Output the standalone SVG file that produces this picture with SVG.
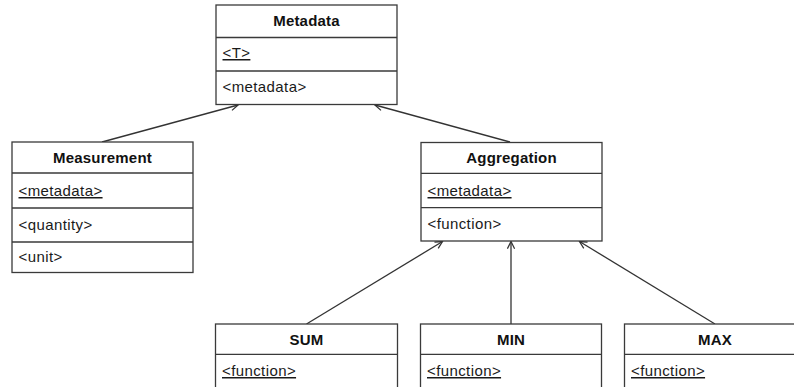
<svg xmlns="http://www.w3.org/2000/svg" width="794" height="387" viewBox="0 0 794 387">
<style>
.box{fill:#fff;stroke:#3a3a3a;stroke-width:1.3}
.div{stroke:#3a3a3a;stroke-width:1.3}
.h{font-family:"Liberation Sans",Arial,sans-serif;font-size:15px;font-weight:bold;letter-spacing:0.2px;fill:#111;text-anchor:middle}
.t{font-family:"Liberation Sans",Arial,sans-serif;font-size:15px;letter-spacing:0.4px;fill:#1a1a1a}
.u{text-decoration:underline}
.c{stroke:#333;stroke-width:1.3;fill:none;marker-end:url(#open)}
</style>
<defs>
<marker id="open" viewBox="0 0 10 10" refX="9" refY="5" markerWidth="9" markerHeight="9" markerUnits="userSpaceOnUse" orient="auto">
<path d="M1,1 L9,5 L1,9" fill="none" stroke="#333" stroke-width="1.4"/>
</marker>
</defs>
<rect width="794" height="387" fill="#fff"/>
<g id="connectors">
<line class="c" x1="102" y1="142" x2="238" y2="105"/>
<line class="c" x1="510" y1="142" x2="375" y2="105"/>
<line class="c" x1="306.5" y1="324" x2="442.5" y2="241.5"/>
<line class="c" x1="511" y1="324" x2="511" y2="241.5"/>
<line class="c" x1="715" y1="324" x2="579.5" y2="241.5"/>
</g>
<g id="metadata">
<rect class="box" x="216" y="5" width="181" height="99.5"/>
<line class="div" x1="216" y1="37.5" x2="397" y2="37.5"/>
<line class="div" x1="216" y1="71" x2="397" y2="71"/>
<text class="h" x="306.5" y="26">Metadata</text>
<text class="t u" x="222.5" y="58">&lt;T&gt;</text>
<text class="t" x="222.5" y="92">&lt;metadata&gt;</text>
</g>
<g id="measurement">
<rect class="box" x="12" y="142" width="181" height="130.5"/>
<line class="div" x1="12" y1="173" x2="193" y2="173"/>
<line class="div" x1="12" y1="208" x2="193" y2="208"/>
<line class="div" x1="12" y1="242" x2="193" y2="242" stroke-width="2"/>
<text class="h" x="102.5" y="163">Measurement</text>
<text class="t u" x="18.5" y="196">&lt;metadata&gt;</text>
<text class="t" x="18.5" y="230">&lt;quantity&gt;</text>
<text class="t" x="18.5" y="262">&lt;unit&gt;</text>
</g>
<g id="aggregation">
<rect class="box" x="421" y="142.5" width="181" height="98.5"/>
<line class="div" x1="421" y1="173.3" x2="602" y2="173.3"/>
<line class="div" x1="421" y1="207.7" x2="602" y2="207.7"/>
<text class="h" x="511.5" y="163">Aggregation</text>
<text class="t u" x="427.5" y="196">&lt;metadata&gt;</text>
<text class="t" x="427.5" y="229">&lt;function&gt;</text>
</g>
<g id="sum">
<rect class="box" x="215.5" y="324" width="182" height="80"/>
<line class="div" x1="215.5" y1="354.3" x2="397.5" y2="354.3"/>
<text class="h" x="306.5" y="345">SUM</text>
<text class="t u" x="222" y="376">&lt;function&gt;</text>
</g>
<g id="min">
<rect class="box" x="420.5" y="324" width="181" height="80"/>
<line class="div" x1="420.5" y1="354.3" x2="601.5" y2="354.3"/>
<text class="h" x="511" y="345">MIN</text>
<text class="t u" x="427" y="376">&lt;function&gt;</text>
</g>
<g id="max">
<rect class="box" x="624.5" y="324" width="182" height="80"/>
<line class="div" x1="624.5" y1="354.3" x2="806.5" y2="354.3"/>
<text class="h" x="715" y="345">MAX</text>
<text class="t u" x="631" y="376">&lt;function&gt;</text>
</g>
</svg>
